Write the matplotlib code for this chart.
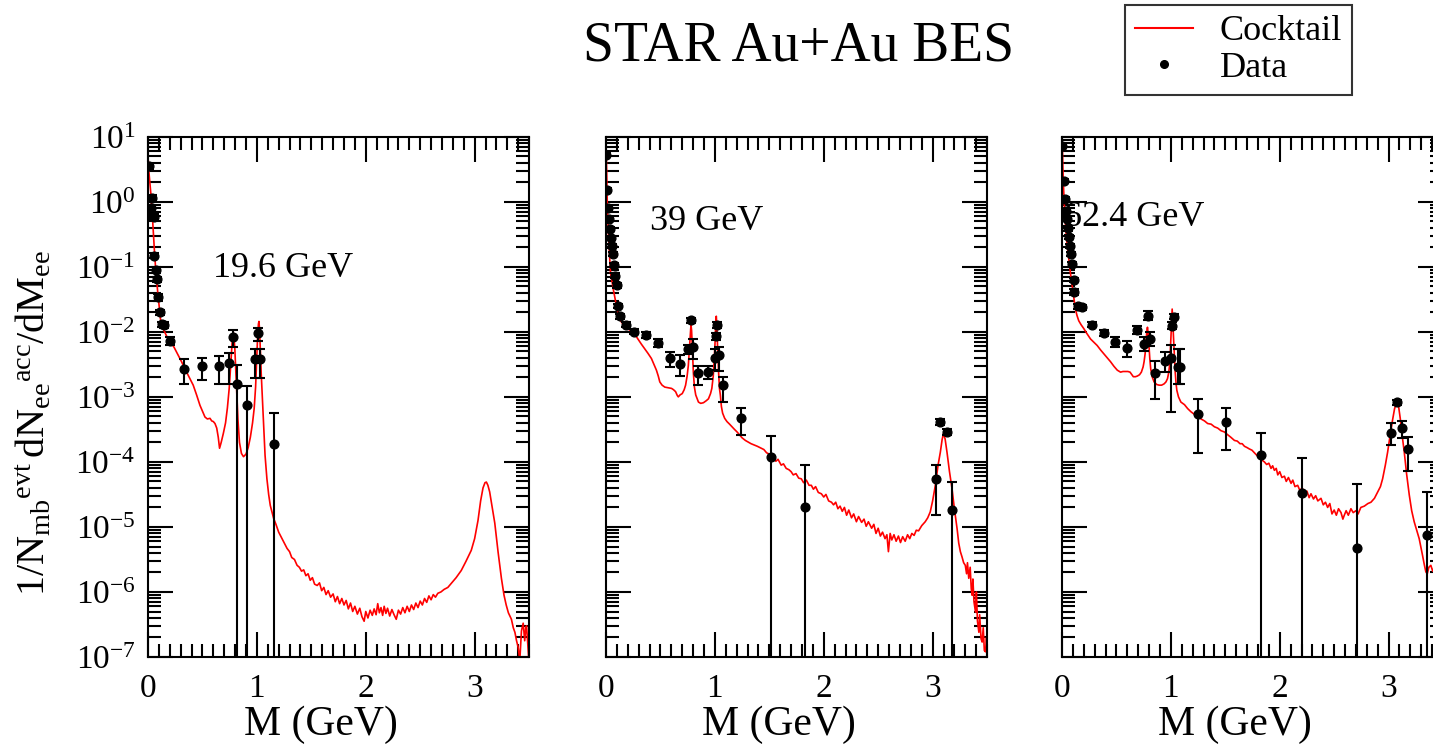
# dielectron mass spectra vs. hadronic cocktail, three BES energies
import numpy as np
import matplotlib.pyplot as plt
from matplotlib.lines import Line2D
from matplotlib.ticker import MultipleLocator, FixedLocator, LogLocator, NullFormatter

plt.rcParams['font.family'] = 'Liberation Serif'
plt.rcParams['mathtext.fontset'] = 'custom'
plt.rcParams['mathtext.rm'] = 'Liberation Serif'
plt.rcParams['mathtext.it'] = 'Liberation Serif:italic'

# ---------------- 19.6 GeV ----------------
m19_cock = [0.004, 0.009, 0.017, 0.025, 0.033, 0.040, 0.052, 0.060, 0.068, 0.076, 0.083, 0.092, 0.102, 0.114,
            0.125, 0.138, 0.155, 0.169, 0.190, 0.215, 0.240, 0.262, 0.285, 0.308, 0.330, 0.354, 0.385, 0.415,
            0.446, 0.477, 0.500, 0.523, 0.545, 0.569, 0.585, 0.600, 0.615, 0.631, 0.645, 0.657, 0.672, 0.692,
            0.712, 0.729, 0.745, 0.757, 0.767, 0.775, 0.782, 0.789, 0.797, 0.805, 0.815, 0.826, 0.840, 0.858,
            0.877, 0.900, 0.920, 0.940, 0.960, 0.975, 0.988, 0.998, 1.006, 1.014, 1.019, 1.025, 1.032, 1.040,
            1.050, 1.062, 1.075, 1.092, 1.108, 1.123, 1.140, 1.154, 1.175, 1.200, 1.225, 1.250, 1.277, 1.300,
            1.320, 1.345, 1.369, 1.390, 1.410, 1.430, 1.450, 1.470, 1.490, 1.510, 1.530, 1.554, 1.575, 1.595,
            1.615, 1.635, 1.655, 1.677, 1.700, 1.720, 1.740, 1.760, 1.780, 1.800, 1.820, 1.840, 1.860, 1.880,
            1.900, 1.923, 1.945, 1.965, 1.985, 2.000, 2.020, 2.040, 2.060, 2.077, 2.095, 2.110, 2.125, 2.140,
            2.155, 2.169, 2.185, 2.200, 2.220, 2.240, 2.260, 2.280, 2.300, 2.320, 2.340, 2.360, 2.380, 2.400,
            2.420, 2.440, 2.460, 2.480, 2.500, 2.520, 2.540, 2.560, 2.580, 2.600, 2.620, 2.640, 2.662, 2.690,
            2.720, 2.754, 2.790, 2.830, 2.877, 2.920, 2.969, 3.000, 3.031, 3.055, 3.077, 3.095, 3.108, 3.122,
            3.138, 3.160, 3.185, 3.215, 3.246, 3.270, 3.290, 3.310, 3.338, 3.355, 3.370, 3.385, 3.400, 3.415,
            3.430, 3.446, 3.460, 3.470, 3.477, 3.490, 3.500]
lg19_cock = [0.62, 0.44, 0.29, 0.14, -0.04, -0.22, -0.58, -0.79, -0.98, -1.14, -1.29, -1.45, -1.60, -1.80,
             -1.89, -1.95, -2.01, -2.06, -2.12, -2.18, -2.24, -2.31, -2.38, -2.46, -2.54, -2.62, -2.72, -2.82,
             -2.97, -3.13, -3.22, -3.31, -3.34, -3.33, -3.37, -3.38, -3.41, -3.48, -3.62, -3.79, -3.70, -3.56,
             -3.40, -3.17, -2.88, -2.58, -2.30, -2.10, -1.99, -2.08, -2.25, -2.55, -2.95, -3.35, -3.70, -3.87,
             -3.92, -3.88, -3.78, -3.62, -3.40, -3.18, -2.85, -2.45, -2.10, -1.88, -1.84, -1.98, -2.30, -2.65,
             -3.00, -3.45, -3.90, -4.26, -4.50, -4.67, -4.78, -4.87, -4.96, -5.08, -5.16, -5.24, -5.33, -5.38,
             -5.47, -5.50, -5.59, -5.62, -5.68, -5.66, -5.75, -5.72, -5.82, -5.78, -5.88, -5.90, -5.86, -5.98,
             -5.93, -6.04, -5.98, -6.08, -6.03, -6.15, -6.07, -6.18, -6.10, -6.20, -6.13, -6.26, -6.17, -6.30,
             -6.22, -6.34, -6.25, -6.38, -6.45, -6.30, -6.40, -6.28, -6.36, -6.26, -6.35, -6.18, -6.32, -6.24,
             -6.36, -6.22, -6.33, -6.25, -6.37, -6.27, -6.35, -6.42, -6.28, -6.34, -6.24, -6.32, -6.22, -6.30,
             -6.20, -6.27, -6.17, -6.24, -6.14, -6.20, -6.10, -6.16, -6.06, -6.12, -6.04, -6.08, -6.02, -6.00,
             -5.96, -5.93, -5.86, -5.78, -5.67, -5.53, -5.36, -5.18, -4.90, -4.60, -4.40, -4.32, -4.31, -4.36,
             -4.46, -4.68, -4.94, -5.38, -5.79, -6.05, -6.20, -6.32, -6.42, -6.55, -6.62, -6.75, -6.85, -7.05,
             -6.60, -6.48, -6.75, -6.55, -6.52, -6.85, -7.10]

m19_data = [0.009, 0.030, 0.040, 0.046, 0.052, 0.058, 0.070, 0.085, 0.095, 0.107, 0.128, 0.146, 0.204,
            0.326, 0.497, 0.649, 0.741, 0.780, 0.818, 0.910, 0.985, 1.006, 1.027, 1.154]
y19_data = [3.5, 0.79, 1.16, 0.63, 0.58, 0.148, 0.089, 0.064, 0.034, 0.020, 0.0130, 0.0129, 0.0073,
            0.0027, 0.00297, 0.00297, 0.0033, 0.0083, 0.00155, 0.00075, 0.00376, 0.0096, 0.00385, 0.000186]
lo19_data = [3.2, 0.72, 1.06, 0.57, 0.53, 0.135, 0.080, 0.058, 0.030, 0.018, 0.0117, 0.0116, 0.0063,
             0.00155, 0.0018, 0.00155, 0.00159, 0.0058, 0, 0, 0.00195, 0.0071, 0.00195, 0]
hi19_data = [3.8, 0.87, 1.27, 0.69, 0.64, 0.162, 0.098, 0.070, 0.038, 0.022, 0.0144, 0.0142, 0.0084,
             0.00376, 0.00394, 0.00432, 0.0048, 0.0107, 0.0031, 0.00145, 0.0055, 0.0114, 0.0055, 0.00057]

# ---------------- 39 GeV ----------------
m39_cock = [0.003, 0.006, 0.012, 0.017, 0.022, 0.028, 0.034, 0.042, 0.052, 0.065, 0.077, 0.090, 0.102, 0.117,
            0.133, 0.160, 0.185, 0.215, 0.247, 0.270, 0.293, 0.325, 0.355, 0.385, 0.417, 0.440, 0.463, 0.480,
            0.494, 0.515, 0.540, 0.570, 0.602, 0.620, 0.639, 0.655, 0.664, 0.680, 0.700, 0.718, 0.731, 0.745,
            0.756, 0.765, 0.772, 0.778, 0.781, 0.786, 0.792, 0.802, 0.812, 0.824, 0.849, 0.870, 0.895, 0.920,
            0.941, 0.960, 0.972, 0.985, 0.995, 1.003, 1.009, 1.013, 1.018, 1.025, 1.034, 1.042, 1.050, 1.060,
            1.071, 1.090, 1.111, 1.135, 1.157, 1.180, 1.204, 1.225, 1.250, 1.280, 1.312, 1.332, 1.360, 1.390,
            1.425, 1.450, 1.475, 1.500, 1.517, 1.540, 1.560, 1.580, 1.609, 1.630, 1.655, 1.680, 1.700, 1.720,
            1.745, 1.770, 1.794, 1.815, 1.840, 1.865, 1.886, 1.905, 1.925, 1.950, 1.978, 2.000, 2.020, 2.045,
            2.071, 2.090, 2.110, 2.130, 2.150, 2.170, 2.190, 2.210, 2.230, 2.255, 2.275, 2.300, 2.320, 2.348,
            2.370, 2.390, 2.410, 2.440, 2.460, 2.480, 2.500, 2.520, 2.540, 2.563, 2.580, 2.594, 2.610, 2.625,
            2.645, 2.665, 2.686, 2.705, 2.725, 2.748, 2.770, 2.790, 2.809, 2.830, 2.850, 2.871, 2.900, 2.932,
            2.955, 2.978, 3.000, 3.025, 3.050, 3.071, 3.087, 3.100, 3.115, 3.132, 3.155, 3.178, 3.200, 3.225,
            3.240, 3.255, 3.270, 3.285, 3.300, 3.312, 3.320, 3.332, 3.345, 3.355, 3.363, 3.370, 3.380, 3.394,
            3.402, 3.412, 3.425, 3.432, 3.445, 3.455, 3.465, 3.475, 3.486, 3.495, 3.505]
lg39_cock = [0.68, 0.49, -0.07, -0.30, -0.47, -0.68, -0.88, -1.10, -1.19, -1.33, -1.44, -1.55, -1.65, -1.75,
             -1.83, -1.89, -1.93, -1.97, -2.00, -2.05, -2.11, -2.19, -2.26, -2.33, -2.41, -2.50, -2.59, -2.68,
             -2.77, -2.82, -2.85, -2.86, -2.87, -2.89, -2.92, -2.98, -3.00, -2.97, -2.95, -2.89, -2.82, -2.68,
             -2.52, -2.30, -2.11, -1.95, -1.90, -1.98, -2.20, -2.62, -2.85, -2.97, -3.08, -3.10, -3.09, -3.06,
             -3.03, -2.95, -2.87, -2.68, -2.40, -2.11, -1.80, -1.76, -1.90, -2.25, -2.62, -2.87, -2.97, -3.15,
             -3.25, -3.33, -3.38, -3.42, -3.46, -3.50, -3.54, -3.58, -3.63, -3.67, -3.70, -3.72, -3.74, -3.76,
             -3.79, -3.81, -3.86, -3.88, -3.90, -3.93, -3.99, -3.96, -4.05, -4.03, -4.10, -4.12, -4.15, -4.20,
             -4.18, -4.25, -4.26, -4.32, -4.28, -4.36, -4.36, -4.42, -4.38, -4.47, -4.49, -4.54, -4.50, -4.60,
             -4.62, -4.66, -4.62, -4.72, -4.68, -4.76, -4.70, -4.82, -4.74, -4.86, -4.80, -4.92, -4.84, -4.93,
             -4.88, -4.99, -4.92, -5.02, -4.96, -5.10, -5.02, -5.14, -5.08, -5.18, -5.12, -5.38, -5.10, -5.20,
             -5.12, -5.22, -5.14, -5.24, -5.15, -5.22, -5.12, -5.18, -5.10, -5.13, -5.05, -5.06, -4.98, -4.92,
             -4.86, -4.77, -4.60, -4.36, -4.05, -3.85, -3.66, -3.56, -3.65, -3.85, -4.15, -4.41, -4.72, -5.03,
             -5.25, -5.38, -5.46, -5.55, -5.59, -5.72, -5.55, -5.79, -5.62, -5.95, -6.05, -5.80, -6.15, -6.31,
             -6.00, -6.45, -6.62, -6.35, -6.72, -6.77, -6.55, -6.90, -6.92, -6.70, -7.05]

m39_data = [0.004, 0.009, 0.022, 0.031, 0.040, 0.046, 0.052, 0.062, 0.071, 0.083, 0.102, 0.114, 0.133,
            0.185, 0.256, 0.370, 0.478, 0.590, 0.682, 0.752, 0.779, 0.798, 0.846, 0.937, 1.000, 1.006,
            1.015, 1.038, 1.075, 1.240, 1.512, 1.830, 3.030, 3.070, 3.130, 3.175]
y39_data = [5.3, 1.51, 0.81, 0.54, 0.38, 0.28, 0.21, 0.156, 0.106, 0.073, 0.052, 0.025, 0.0174,
            0.0129, 0.0101, 0.0090, 0.0067, 0.0039, 0.0032, 0.0054, 0.0152, 0.0058, 0.0023, 0.0024, 0.0039,
            0.0085, 0.0128, 0.0044, 0.0015, 0.00047, 0.00012, 2.0e-5, 5.5e-5, 0.00041, 0.00029, 1.8e-5]
lo39_data = [4.9, 1.40, 0.75, 0.50, 0.35, 0.26, 0.195, 0.145, 0.098, 0.067, 0.047, 0.023, 0.0160,
             0.0118, 0.0093, 0.0081, 0.0058, 0.0029, 0.0021, 0.0046, 0.0138, 0.0038, 0.0015, 0.0019, 0.0026,
             0.0075, 0.0116, 0.0025, 0.00084, 0.00026, 0, 0, 1.55e-5, 0.00037, 0.00026, 0]
hi39_data = [5.7, 1.62, 0.87, 0.58, 0.41, 0.30, 0.225, 0.167, 0.114, 0.079, 0.057, 0.027, 0.0188,
             0.0140, 0.0109, 0.0099, 0.0077, 0.0049, 0.0044, 0.0063, 0.0166, 0.0078, 0.0030, 0.0030, 0.0055,
             0.0096, 0.0140, 0.0059, 0.0020, 0.00068, 0.00025, 9.1e-5, 9.1e-5, 0.00045, 0.00032, 4.9e-5]

# ---------------- 62.4 GeV ----------------
m62_cock = [0.003, 0.006, 0.010, 0.015, 0.022, 0.031, 0.040, 0.052, 0.064, 0.077, 0.090, 0.102, 0.112, 0.123,
            0.138, 0.154, 0.175, 0.200, 0.230, 0.262, 0.292, 0.323, 0.355, 0.385, 0.415, 0.446, 0.477, 0.508,
            0.538, 0.560, 0.585, 0.605, 0.625, 0.642, 0.655, 0.675, 0.692, 0.712, 0.729, 0.745, 0.754, 0.764,
            0.772, 0.779, 0.785, 0.791, 0.797, 0.806, 0.815, 0.830, 0.846, 0.870, 0.892, 0.915, 0.938, 0.955,
            0.969, 0.980, 0.988, 0.995, 1.000, 1.006, 1.012, 1.018, 1.025, 1.033, 1.040, 1.048, 1.055, 1.070,
            1.092, 1.125, 1.154, 1.185, 1.217, 1.250, 1.277, 1.309, 1.338, 1.370, 1.400, 1.430, 1.460, 1.492,
            1.520, 1.550, 1.584, 1.610, 1.635, 1.655, 1.676, 1.700, 1.720, 1.745, 1.768, 1.790, 1.810, 1.835,
            1.859, 1.880, 1.900, 1.920, 1.935, 1.951, 1.968, 1.982, 2.000, 2.020, 2.043, 2.060, 2.080, 2.104,
            2.120, 2.140, 2.165, 2.185, 2.205, 2.226, 2.250, 2.270, 2.287, 2.310, 2.330, 2.350, 2.379, 2.400,
            2.420, 2.440, 2.460, 2.480, 2.500, 2.520, 2.540, 2.563, 2.580, 2.593, 2.610, 2.630, 2.654, 2.675,
            2.700, 2.720, 2.745, 2.777, 2.810, 2.838, 2.870, 2.900, 2.925, 2.945, 2.970, 2.991, 3.015, 3.037,
            3.055, 3.076, 3.092, 3.107, 3.125, 3.144, 3.165, 3.190, 3.212, 3.235, 3.258, 3.281, 3.298, 3.312,
            3.328, 3.342, 3.355, 3.370, 3.388, 3.405, 3.420, 3.440, 3.460, 3.480, 3.500]
lg62_cock = [0.86, 0.65, 0.42, 0.19, -0.05, -0.32, -0.55, -0.73, -0.92, -1.09, -1.25, -1.39, -1.52, -1.65,
             -1.75, -1.83, -1.89, -1.95, -2.03, -2.11, -2.16, -2.21, -2.28, -2.34, -2.40, -2.46, -2.53, -2.59,
             -2.62, -2.61, -2.61, -2.61, -2.62, -2.66, -2.69, -2.69, -2.68, -2.66, -2.62, -2.54, -2.46, -2.33,
             -2.16, -2.00, -1.93, -2.02, -2.16, -2.40, -2.57, -2.70, -2.77, -2.81, -2.82, -2.82, -2.80, -2.77,
             -2.72, -2.63, -2.52, -2.30, -2.11, -1.85, -1.65, -1.85, -2.11, -2.40, -2.62, -2.80, -2.90, -3.00,
             -3.08, -3.12, -3.18, -3.23, -3.27, -3.30, -3.34, -3.37, -3.41, -3.42, -3.46, -3.48, -3.52, -3.54,
             -3.58, -3.62, -3.67, -3.68, -3.72, -3.72, -3.76, -3.78, -3.80, -3.82, -3.86, -3.90, -3.91, -3.97,
             -4.00, -4.04, -4.02, -4.10, -4.06, -4.13, -4.10, -4.20, -4.15, -4.24, -4.22, -4.30, -4.24, -4.33,
             -4.28, -4.38, -4.36, -4.44, -4.40, -4.47, -4.45, -4.55, -4.49, -4.57, -4.52, -4.60, -4.56, -4.66,
             -4.62, -4.70, -4.64, -4.80, -4.74, -4.82, -4.72, -4.78, -4.88, -4.82, -4.75, -4.82, -4.72, -4.78,
             -4.75, -4.80, -4.70, -4.68, -4.64, -4.62, -4.56, -4.46, -4.38, -4.26, -4.05, -3.85, -3.58, -3.35,
             -3.18, -3.08, -3.15, -3.33, -3.60, -3.85, -4.18, -4.51, -4.75, -4.92, -5.05, -5.18, -5.32, -5.44,
             -5.58, -5.69, -5.72, -5.62, -5.59, -5.68, -5.62, -5.75, -5.70, -5.80, -5.78]

m62_data = [0.003, 0.015, 0.031, 0.040, 0.046, 0.052, 0.062, 0.071, 0.083, 0.092, 0.108, 0.114, 0.145,
            0.185, 0.277, 0.385, 0.486, 0.600, 0.692, 0.754, 0.791, 0.809, 0.855, 0.945, 1.000, 1.015,
            1.025, 1.062, 1.083, 1.246, 1.508, 1.829, 2.205, 2.706, 3.021, 3.073, 3.119, 3.174, 3.352]
y62_data = [7.3, 2.07, 1.11, 0.72, 0.54, 0.39, 0.29, 0.21, 0.156, 0.11, 0.063, 0.041, 0.0246,
            0.0240, 0.0129, 0.0097, 0.0070, 0.0056, 0.0107, 0.0066, 0.0174, 0.0078, 0.0023, 0.0036, 0.0039,
            0.0125, 0.0170, 0.0029, 0.0029, 0.00054, 0.00041, 0.000129, 3.3e-5, 4.8e-6, 0.00028, 0.00082,
            0.00033, 0.000157, 7.6e-6]
lo62_data = [6.8, 1.93, 1.03, 0.67, 0.50, 0.36, 0.27, 0.195, 0.145, 0.10, 0.058, 0.037, 0.0226,
             0.0220, 0.0117, 0.0086, 0.0059, 0.0041, 0.0094, 0.0050, 0.0150, 0.0060, 0.00094, 0.0024, 0.00059,
             0.0110, 0.0155, 0.0016, 0.0016, 0.000135, 0.000155, 0, 0, 0, 0.00018, 0.00076,
             0.00023, 0.000072, 0]
hi62_data = [7.8, 2.21, 1.19, 0.77, 0.58, 0.42, 0.31, 0.225, 0.167, 0.12, 0.068, 0.045, 0.0266,
             0.0260, 0.0141, 0.0108, 0.0082, 0.0071, 0.0121, 0.0082, 0.0212, 0.0099, 0.0036, 0.0049, 0.0063,
             0.0140, 0.0185, 0.0055, 0.0055, 0.00094, 0.00068, 0.00028, 0.000115, 4.5e-5, 0.00039, 0.00088,
             0.00042, 0.00024, 3.5e-5]

energies = ['19.6 GeV', '39 GeV', '62.4 GeV']
label_pos = [(0.60, 0.095), (0.40, 0.49), (0.02, 0.58)]

panels = [
    (m19_cock, lg19_cock, m19_data, y19_data, lo19_data, hi19_data),
    (m39_cock, lg39_cock, m39_data, y39_data, lo39_data, hi39_data),
    (m62_cock, lg62_cock, m62_data, y62_data, lo62_data, hi62_data),
]

fig = plt.figure(figsize=(14.33, 7.45), dpi=100)
lefts = [0.1033, 0.4229, 0.7411]

for i, (mc, lc, md, yd, lo, hi) in enumerate(panels):
    ax = fig.add_axes([lefts[i], 0.1181, 0.2659, 0.6984])
    ax.set_yscale('log')
    ax.plot(mc, 10 ** np.array(lc), color='red', lw=1.2, zorder=2)
    yd = np.array(yd)
    err = [yd - np.array(lo), np.array(hi) - yd]
    ax.errorbar(md, yd, yerr=err, fmt='o', color='black', ms=6.3,
                elinewidth=1.5, capsize=3.6, capthick=1.5, zorder=3)
    ax.set_xlim(0, 3.5)
    ax.set_ylim(1e-7, 10)
    ax.xaxis.set_major_locator(FixedLocator([0, 1, 2, 3]))
    ax.xaxis.set_minor_locator(MultipleLocator(0.1))
    ax.yaxis.set_major_locator(LogLocator(base=10, numticks=20))
    ax.yaxis.set_minor_locator(LogLocator(base=10, subs=np.arange(2, 10), numticks=20))
    ax.yaxis.set_minor_formatter(NullFormatter())
    ax.tick_params(which='both', direction='in', top=True, right=True, width=1.5, labelsize=24)
    ax.tick_params(which='major', length=18)
    ax.tick_params(which='minor', length=9.5)
    ax.tick_params(axis='x', pad=12)
    ax.tick_params(axis='y', pad=9)
    for s in ax.spines.values():
        s.set_linewidth(1.5)
    ax.set_xlabel('M (GeV)', fontsize=30)
    ax.xaxis.set_label_coords(0.453, -0.094)
    if i == 0:
        ax.set_ylabel(r'$\mathregular{1/N_{mb}{}^{evt}\,dN_{ee}{}^{acc}/dM_{ee}}$', fontsize=29)
        ax.yaxis.set_label_coords(-0.245, 0.45)
    else:
        ax.tick_params(axis='y', labelleft=False)
    ax.text(label_pos[i][0], label_pos[i][1], energies[i], fontsize=26, va='center', ha='left', zorder=1)

fig.text(0.557, 0.937, 'STAR Au+Au BES', fontsize=40, ha='center', va='center')

handles = [Line2D([], [], color='red', lw=1.5),
           Line2D([], [], color='black', marker='o', ls='none', ms=5.5)]
leg = fig.legend(handles, ['Cocktail', 'Data'], loc='upper left',
                 bbox_to_anchor=(1125 / 1433, 1 - 5 / 745), fontsize=26, frameon=True,
                 fancybox=False, edgecolor='black', borderpad=0.28, labelspacing=0.08,
                 handlelength=1.6, handletextpad=0.75, borderaxespad=0)
leg.get_frame().set_linewidth(1.5)

fig.savefig('out.png', dpi=100)
